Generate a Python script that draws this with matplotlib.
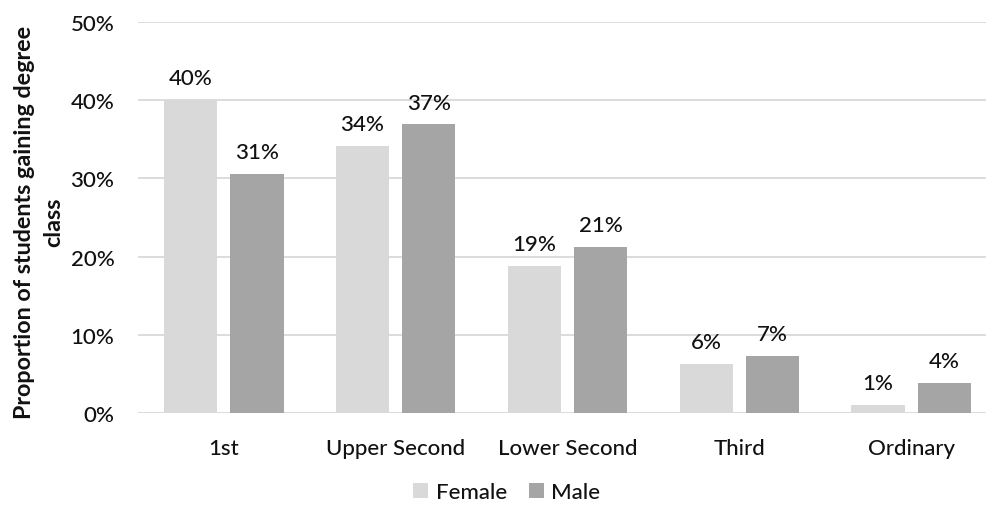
import matplotlib
matplotlib.use("Agg")
import matplotlib.pyplot as plt
import numpy as np
from matplotlib.ticker import FuncFormatter

categories = ["1st", "Upper Second", "Lower Second", "Third", "Ordinary"]
female = [40.0, 34.2, 18.8, 6.3, 1.0]
male = [30.6, 36.9, 21.2, 7.3, 3.8]
series_names = ["Female", "Male"]
yticks = [0, 10, 20, 30, 40, 50]

plt.rcParams['font.family'] = ['Lato', 'DejaVu Sans']
text_color = '#111111'
fs = 16

W, H = 987, 506
fig = plt.figure(figsize=(W / 100, H / 100), dpi=100)
ax = fig.add_axes([138 / W, (H - 414) / H, (997 - 138) / W, (414 - 23) / H])

x = np.arange(len(categories))
bw = 0.31
off = 0.193
colors = ['#d9d9d9', '#a5a5a5']
b1 = ax.bar(x - off, female, bw, color=colors[0], label=series_names[0], zorder=2)
b2 = ax.bar(x + off, male, bw, color=colors[1], label=series_names[1], zorder=2)

for bars in (b1, b2):
    for r in bars:
        v = r.get_height()
        ax.annotate(f"{v:.0f}%", (r.get_x() + r.get_width() / 2, v),
                    xytext=(0, 8.5), textcoords='offset points', ha='center', va='bottom',
                    fontsize=fs, color=text_color, fontweight='medium')

ax.set_xlim(-0.5, len(categories) - 0.5)
ax.set_ylim(0, 50)
ax.set_yticks(yticks)
ax.yaxis.set_major_formatter(FuncFormatter(lambda v, p: f"{v:.0f}%"))
ax.set_xticks(x)
ax.set_xticklabels(categories)
ax.tick_params(axis='both', length=0, labelsize=fs, colors=text_color)
ax.tick_params(axis='x', pad=18)
ax.tick_params(axis='y', pad=17)
for lab in ax.get_yticklabels() + ax.get_xticklabels():
    lab.set_fontweight('medium')
ax.grid(axis='y', color='#d9d9d9', linewidth=1.3, zorder=0)
ax.set_axisbelow(True)
for s in ax.spines.values():
    s.set_visible(False)

fig.text(39 / W, 1 - (414 + 23) / 2 / H - 4 / H, "Proportion of students gaining degree\nclass",
         rotation=90, ha='center', va='center', fontsize=16.8, fontweight='bold',
         color=text_color, linespacing=1.5, multialignment='center')

leg = fig.legend(handles=[b1, b2], labels=series_names, loc='center', ncol=2,
                 bbox_to_anchor=(507 / W, 1 - 493 / H), frameon=False, fontsize=fs,
                 handlelength=0.65, handleheight=0.65, handletextpad=0.35, columnspacing=1.0)
for t in leg.get_texts():
    t.set_color(text_color)
    t.set_fontweight('medium')

fig.savefig("out.png", dpi=100)
